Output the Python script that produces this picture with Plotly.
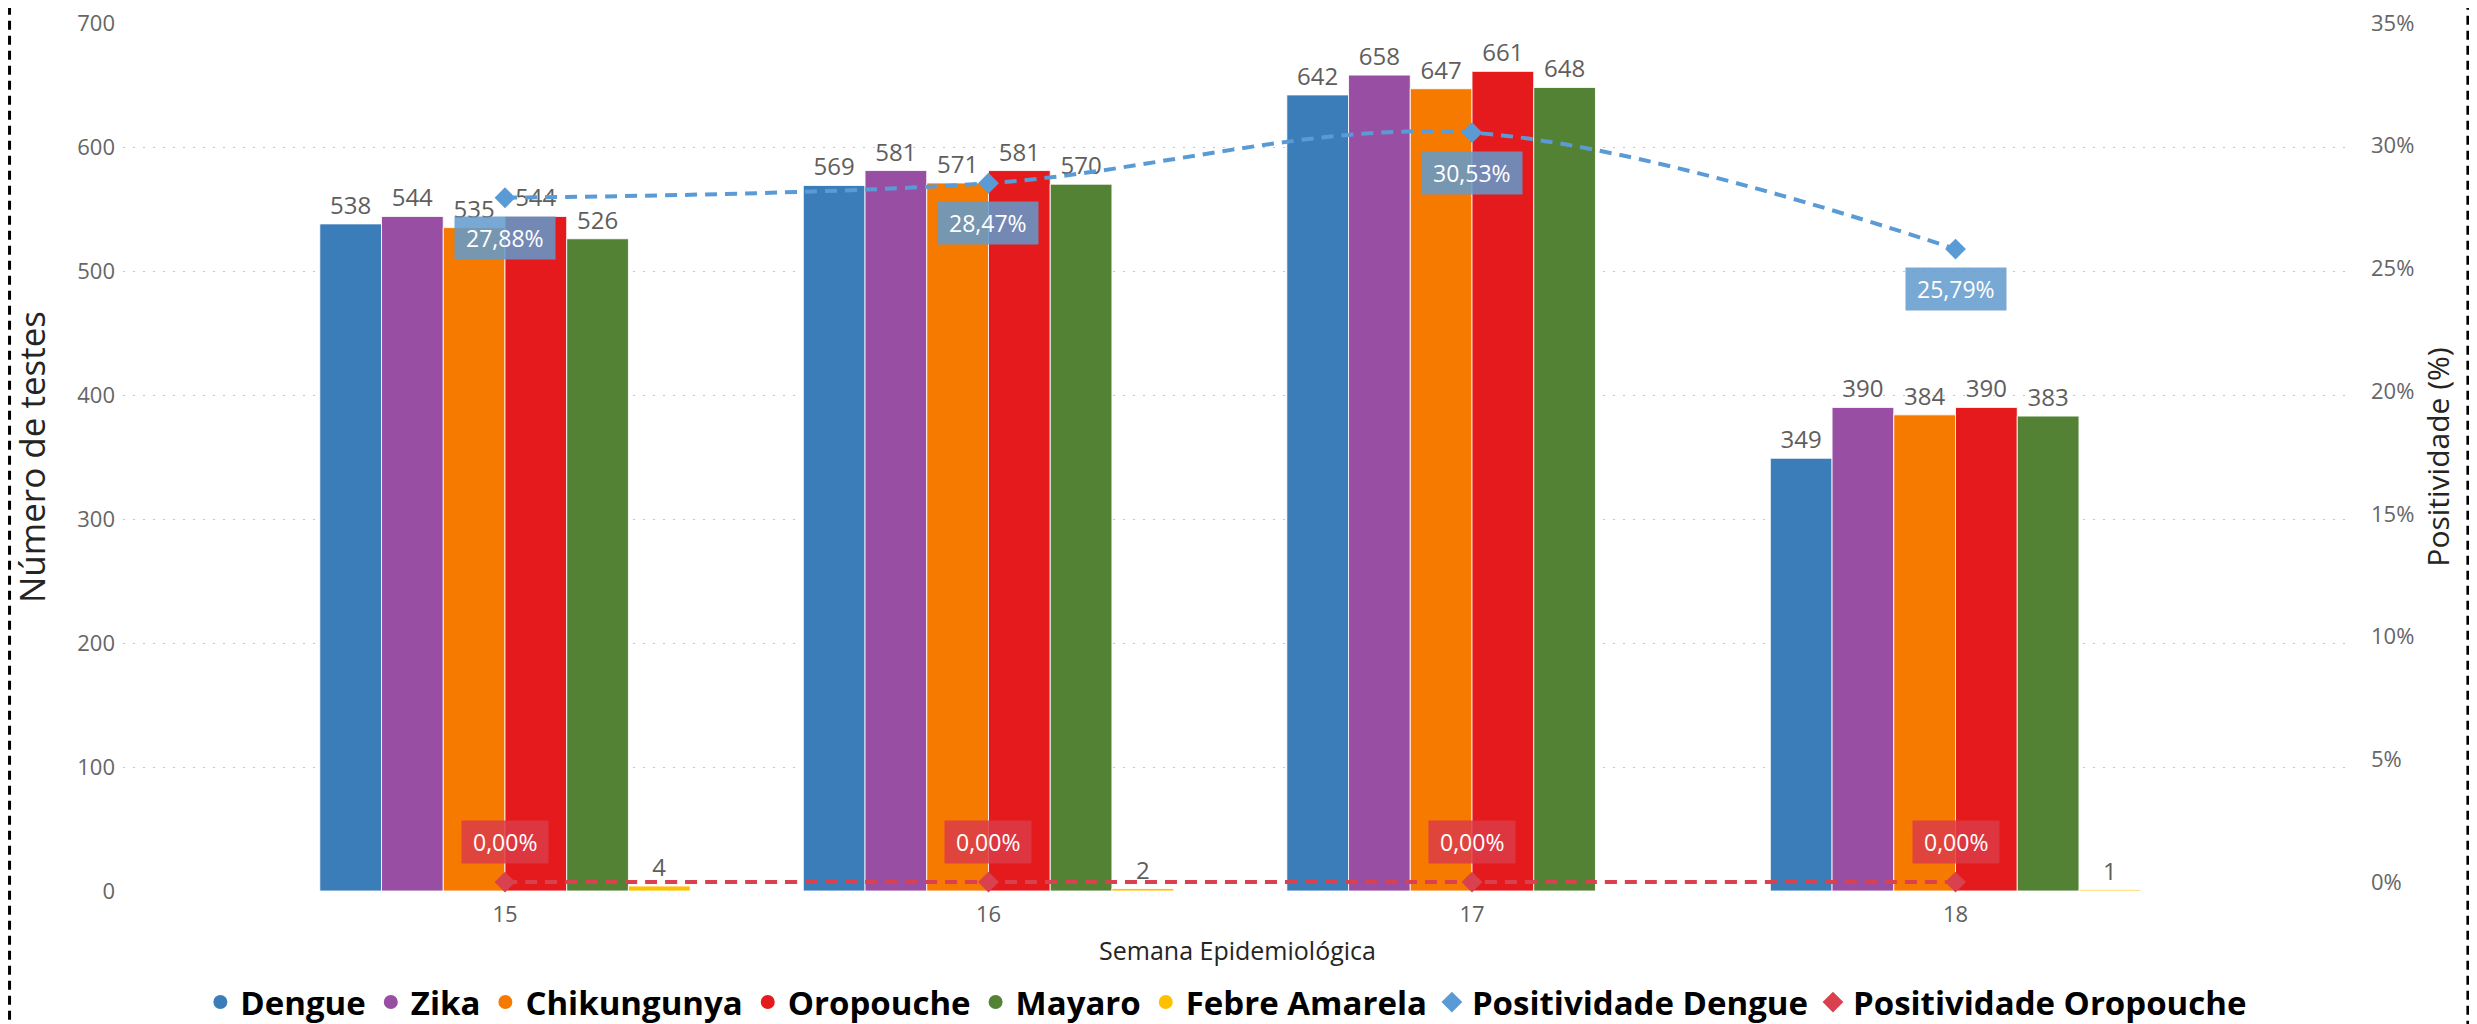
import plotly.graph_objects as go

# ---- data ----
weeks = ["15", "16", "17", "18"]
dengue = [538, 569, 642, 349]
zika = [544, 581, 658, 390]
chikungunya = [535, 571, 647, 384]
oropouche = [544, 581, 661, 390]
mayaro = [526, 570, 648, 383]
febre_amarela = [4, 2, 0, 1]
pos_dengue = [27.88, 28.47, 30.53, 25.79]
pos_oropouche = [0.00, 0.00, 0.00, 0.00]

bar_series = [
    ("Dengue", dengue, "#3A7DB8"),
    ("Zika", zika, "#984EA3"),
    ("Chikungunya", chikungunya, "#F77A00"),
    ("Oropouche", oropouche, "#E41A1C"),
    ("Mayaro", mayaro, "#548235"),
    ("Febre Amarela", febre_amarela, "#FFC000"),
]
line_series = [
    ("Positividade Dengue", pos_dengue, "#5B9BD5", "rgba(98,155,205,0.86)", -40),
    ("Positividade Oropouche", pos_oropouche, "#D9414F", "rgba(220,60,72,0.85)", 40),
]

FONT = "Open Sans, Noto Sans, Roboto, sans-serif"
LABEL_GRAY = "#605E5C"
TITLE_COL = "#252423"


def pct(v):
    return f"{v:.2f}".replace(".", ",") + "%"


fig = go.Figure()

for name, vals, col in bar_series:
    fig.add_trace(go.Bar(
        x=weeks, y=vals, name=name, showlegend=False,
        marker=dict(color=col, line=dict(color="rgba(255,255,255,0.85)", width=1)),
        text=[str(v) if v else "" for v in vals],
        textposition="outside", textangle=0, constraintext="none",
        textfont=dict(family=FONT, size=24, color=LABEL_GRAY),
        cliponaxis=False,
    ))

for name, vals, col, boxcol, shift in line_series:
    fig.add_trace(go.Scatter(
        x=weeks, y=vals, yaxis="y2", name=name, showlegend=False,
        mode="lines+markers",
        line=dict(color=col, width=4, dash="12px,8px", shape="spline"),
        marker=dict(symbol="diamond", size=16, color=col),
        cliponaxis=False,
    ))
    for i, v in enumerate(vals):
        fig.add_annotation(
            x=i, xref="x", y=v, yref="y2",
            text="&nbsp;" + pct(v) + "&nbsp;", showarrow=False,
            yshift=shift, bgcolor=boxcol, borderpad=5,
            font=dict(family=FONT, size=23, color="white"),
        )

# legend-only entries (circle / diamond symbols)
for name, vals, col in bar_series:
    fig.add_trace(go.Scatter(
        x=[None], y=[None], mode="markers", name=name,
        marker=dict(symbol="circle", size=14, color=col),
    ))
for name, vals, col, boxcol, shift in line_series:
    fig.add_trace(go.Scatter(
        x=[None], y=[None], mode="markers", name=name, yaxis="y2",
        marker=dict(symbol="diamond", size=16, color=col),
    ))

# dashed page border
fig.add_shape(type="rect", xref="paper", yref="paper",
              x0=-0.0509, x1=1.052, y0=-0.3, y1=1.2,
              line=dict(color="black", width=3, dash="9px,6px"), layer="above")

fig.update_layout(
    width=2477, height=1024,
    margin=dict(l=115, r=133, t=15, b=141, autoexpand=False),
    paper_bgcolor="white", plot_bgcolor="white",
    font=dict(family=FONT, color=LABEL_GRAY),
    barmode="group", bargap=0.234, bargroupgap=0,
    xaxis=dict(
        type="category", range=[-0.79, 3.82],
        showgrid=False, zeroline=False, showline=False, automargin=False,
        tickfont=dict(family=FONT, size=22, color=LABEL_GRAY),
        ticklabelstandoff=8,
        title=dict(text="Semana Epidemiológica", standoff=15,
                   font=dict(family=FONT, size=25, color=TITLE_COL)),
    ),
    yaxis=dict(
        range=[0, 700], dtick=100,
        showgrid=True, gridcolor="#C8C6C4", griddash="2px,8px", gridwidth=1,
        zeroline=False, showline=False, automargin=False,
        tickfont=dict(family=FONT, size=22, color="#666666"),
        ticklabelstandoff=7, ticklabeloverflow="allow",
        title=dict(text="Número de testes", standoff=32,
                   font=dict(family=FONT, size=35, color=TITLE_COL)),
    ),
    yaxis2=dict(
        overlaying="y", side="right", range=[-0.365, 35], dtick=5,
        ticksuffix="%", showgrid=False, zeroline=False, showline=False,
        automargin=False,
        tickfont=dict(family=FONT, size=22, color="#666666"),
        ticklabelstandoff=18, ticklabeloverflow="allow",
        title=dict(text="Positividade (%)", standoff=14,
                   font=dict(family=FONT, size=30, color=TITLE_COL)),
    ),
    legend=dict(
        orientation="h", x=0.495, xanchor="center", y=-0.128, yanchor="middle",
        font=dict(family=FONT, size=33, color="black", weight="bold"),
        itemwidth=30, bgcolor="rgba(0,0,0,0)",
    ),
)

fig.write_html("out.html")
